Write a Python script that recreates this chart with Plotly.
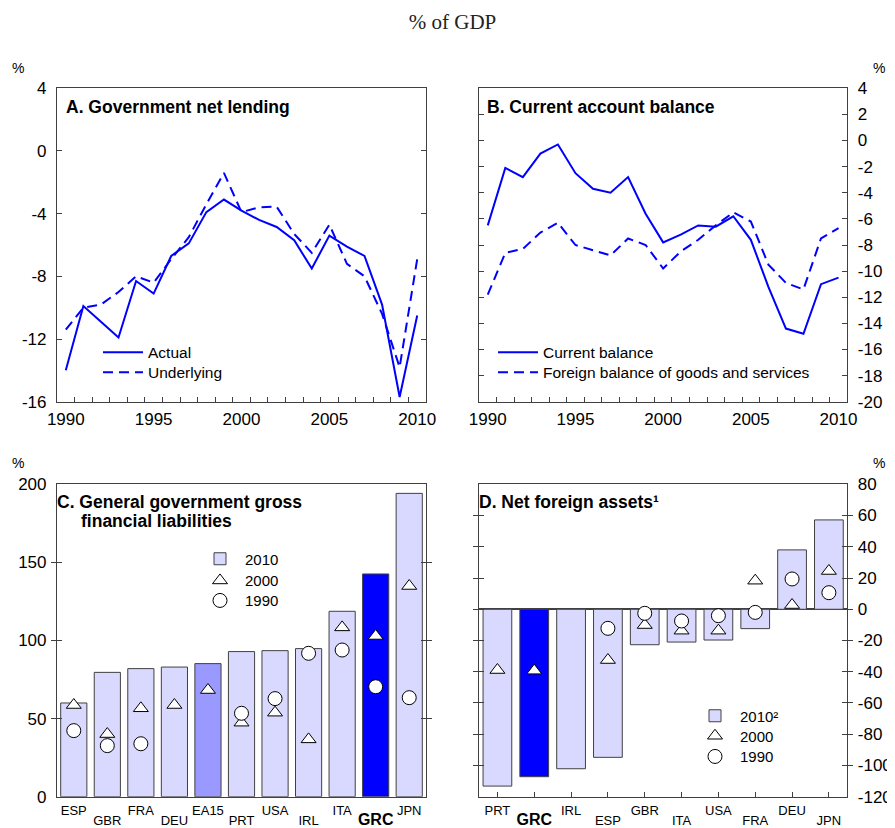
import plotly.graph_objects as go

# ---------------- data ----------------
years = list(range(1990, 2011))
gov_actual = [-14.0, -9.9, -10.9, -11.9, -8.3, -9.1, -6.7, -5.9, -3.9, -3.1, -3.8,
              -4.4, -4.85, -5.7, -7.5, -5.4, -6.1, -6.7, -9.8, -15.7, -10.5]
gov_underlying = [-11.4, -10.0, -9.8, -9.0, -8.0, -8.4, -6.9, -5.5, -3.4, -1.4, -3.9,
                  -3.6, -3.55, -5.3, -6.5, -4.7, -7.2, -8.0, -10.4, -13.8, -6.9]
ca_current = [-6.5, -2.1, -2.8, -1.0, -0.3, -2.5, -3.7, -4.0, -2.8, -5.6, -7.8,
              -7.2, -6.5, -6.6, -5.8, -7.6, -11.2, -14.4, -14.8, -11.0, -10.5]
ca_foreign = [-11.8, -8.6, -8.3, -7.05, -6.3, -8.0, -8.4, -8.8, -7.5, -8.0, -9.8,
              -8.5, -7.6, -6.5, -5.5, -6.2, -9.5, -10.9, -11.4, -7.5, -6.7]
year_ticks = [1990, 1995, 2000, 2005, 2010]

debt_countries = ["ESP", "GBR", "FRA", "DEU", "EA15", "PRT", "USA", "IRL", "ITA", "GRC", "JPN"]
debt_2010 = [60.0, 79.6, 82.0, 83.0, 85.2, 92.9, 93.5, 94.8, 118.7, 142.6, 194.2]
debt_2000 = [58.7, 40.1, 56.6, 58.7, 68.3, 47.4, 53.8, 36.7, 108.4, 102.9, 134.9]
debt_1990 = [42.3, 32.7, 33.9, None, None, 53.4, 62.8, 91.8, 93.9, 70.4, 63.4]

nfa_countries = ["PRT", "GRC", "IRL", "ESP", "GBR", "ITA", "USA", "FRA", "DEU", "JPN"]
nfa_2010 = [-113.2, -107.2, -102.1, -94.8, -22.7, -21.0, -19.7, -12.4, 38.0, 57.2]
nfa_2000 = [-38.9, -39.3, None, -32.5, -10.1, -13.7, -13.7, 18.3, 2.7, 24.5]
nfa_1990 = [None, None, None, -12.2, -2.6, -7.5, -4.1, -2.0, 19.4, 10.6]

ticks_a = [4, 0, -4, -8, -12, -16]
ticks_b = list(range(4, -21, -2))
ticks_c = [0, 50, 100, 150, 200]
ticks_d = list(range(80, -121, -20))

# ---------------- style ----------------
PAGE_OFFSET = 8          # default body margin of the html page
W, H = 895 - PAGE_OFFSET, 828 - PAGE_OFFSET
SANS = "Liberation Sans, Arial, sans-serif"
BLUE = "#0000ff"
LIGHT = "#d9d9ff"
MID = "#9999ff"
FRAME = "#404040"


def px_x(p):
    return (p - PAGE_OFFSET) / W


def px_y(p):
    return 1 - (p - PAGE_OFFSET) / H


def bar_color(c):
    return BLUE if c == "GRC" else (MID if c == "EA15" else LIGHT)


def cat_label(c):
    if c == "GRC":
        return "<span style='font-size:16px'><b>GRC</b></span>"
    return c


fig = go.Figure()
legend_layout = {}
legend_count = [0]


def new_legend(x, y, size=15.5):
    """one legend box per entry so rows can be spaced like the reference"""
    legend_count[0] += 1
    key = "legend" if legend_count[0] == 1 else f"legend{legend_count[0]}"
    legend_layout[key] = dict(x=px_x(x), y=px_y(y), xanchor="left", yanchor="middle",
                              bgcolor="rgba(0,0,0,0)", borderwidth=0, itemwidth=40,
                              font=dict(family=SANS, size=size, color="black"))
    return key


tri = dict(symbol="triangle-up", size=13, color="white", line=dict(color="black", width=1))
circ = dict(symbol="circle", size=14, color="white", line=dict(color="black", width=1))

# Panel A
fig.add_trace(go.Scatter(x=years, y=gov_actual, mode="lines", name="Actual",
                         line=dict(color=BLUE, width=2), xaxis="x", yaxis="y",
                         legend=new_legend(98, 352.7)))
fig.add_trace(go.Scatter(x=years, y=gov_underlying, mode="lines", name="Underlying",
                         line=dict(color=BLUE, width=2, dash="10px,6px"), xaxis="x", yaxis="y",
                         legend=new_legend(98, 372.7)))
# Panel B
fig.add_trace(go.Scatter(x=years, y=ca_current, mode="lines", name="Current balance",
                         line=dict(color=BLUE, width=2), xaxis="x2", yaxis="y2",
                         legend=new_legend(493, 352.7)))
fig.add_trace(go.Scatter(x=years, y=ca_foreign, mode="lines",
                         name="Foreign balance of goods and services",
                         line=dict(color=BLUE, width=2, dash="10px,6px"), xaxis="x2", yaxis="y2",
                         legend=new_legend(493, 372.7)))
# Panel C
fig.add_trace(go.Bar(x=debt_countries, y=debt_2010, name="2010",
                     marker=dict(color=[bar_color(c) for c in debt_countries],
                                 line=dict(color=FRAME, width=1)),
                     xaxis="x3", yaxis="y3", legend=new_legend(195, 559, 15)))
fig.add_trace(go.Scatter(x=debt_countries, y=debt_2000, mode="markers", name="2000",
                         marker=tri, xaxis="x3", yaxis="y3", legend=new_legend(195, 580.7, 15)))
fig.add_trace(go.Scatter(x=debt_countries, y=debt_1990, mode="markers", name="1990",
                         marker=circ, xaxis="x3", yaxis="y3", legend=new_legend(195, 600.7, 15)))
# invisible helper so the staggered label axis is drawn
fig.add_trace(go.Scatter(x=list(range(len(debt_countries))), y=debt_2010, mode="markers",
                         marker=dict(opacity=0), showlegend=False, hoverinfo="skip",
                         xaxis="x5", yaxis="y3"))
# Panel D
fig.add_trace(go.Bar(x=nfa_countries, y=nfa_2010, name="2010²",
                     marker=dict(color=[bar_color(c) for c in nfa_countries],
                                 line=dict(color=FRAME, width=1)),
                     xaxis="x4", yaxis="y4", legend=new_legend(690, 716, 15)))
fig.add_trace(go.Scatter(x=nfa_countries, y=nfa_2000, mode="markers", name="2000",
                         marker=tri, xaxis="x4", yaxis="y4", legend=new_legend(690, 736, 15)))
fig.add_trace(go.Scatter(x=nfa_countries, y=nfa_1990, mode="markers", name="1990",
                         marker=circ, xaxis="x4", yaxis="y4", legend=new_legend(690, 756.7, 15)))
fig.add_trace(go.Scatter(x=list(range(len(nfa_countries))), y=nfa_2010, mode="markers",
                         marker=dict(opacity=0), showlegend=False, hoverinfo="skip",
                         xaxis="x6", yaxis="y4"))

# ---------------- axes ----------------
dom_left = [px_x(57), px_x(426)]
dom_right = [px_x(479), px_x(847.3)]
dom_top = [px_y(401.7), px_y(88.3)]
dom_bot = [px_y(796.7), px_y(484.3)]

tickfont = dict(family=SANS, size=17, color="black")
catfont = dict(family=SANS, size=13, color="black")

common_x_year = dict(range=[1989.5, 2010.5], tickmode="array", tickvals=year_ticks,
                     ticktext=[str(v) for v in year_ticks],
                     ticks="inside", ticklen=0, showline=True, linecolor=FRAME, linewidth=1.2,
                     mirror=True, automargin=False,
                     showgrid=False, zeroline=False, tickfont=tickfont, ticklabelstandoff=2,
                     minor=dict(ticks="inside", tick0=1989.5, dtick=1, ticklen=5,
                                tickcolor=FRAME, showgrid=False))
common_y = dict(showline=True, linecolor=FRAME, linewidth=1.2, mirror="allticks",
                ticks="inside", ticklen=5, tickcolor=FRAME, showgrid=False, automargin=False,
                tickfont=tickfont, ticklabelstandoff=6, tickmode="array")

even_c = debt_countries[0::2]
odd_c = debt_countries[1::2]
odd_d = nfa_countries[1::2]

fig.update_layout(
    xaxis=dict(domain=dom_left, anchor="y", **common_x_year),
    yaxis=dict(domain=dom_top, anchor="x", range=[-16, 4], tickvals=ticks_a,
               ticktext=[str(v) for v in ticks_a], zeroline=False, **common_y),
    xaxis2=dict(domain=dom_right, anchor="y2", **common_x_year),
    yaxis2=dict(domain=dom_top, anchor="x2", side="right", range=[-20, 4], tickvals=ticks_b,
                ticktext=[str(v) for v in ticks_b], zeroline=False, **common_y),
    xaxis3=dict(domain=dom_left, anchor="y3", type="category", categoryorder="array",
                categoryarray=debt_countries, range=[-0.5, len(debt_countries) - 0.5],
                tickmode="array", tickvals=even_c, ticktext=[cat_label(c) for c in even_c],
                ticks="", showline=True, linecolor=FRAME, linewidth=1.2, mirror=True,
                automargin=False,
                showgrid=False, zeroline=False, tickfont=catfont, ticklabelstandoff=2),
    xaxis5=dict(overlaying="x3", anchor="y3", side="bottom", type="linear",
                range=[-0.5, len(debt_countries) - 0.5], tickmode="array",
                tickvals=[debt_countries.index(c) for c in odd_c],
                ticktext=[cat_label(c) for c in odd_c], ticks="", showline=False,
                automargin=False,
                showgrid=False, zeroline=False, tickfont=catfont, ticklabelstandoff=14),
    yaxis3=dict(domain=dom_bot, anchor="x3", range=[0, 200], tickvals=ticks_c,
                ticktext=[str(v) for v in ticks_c], zeroline=False, **common_y),
    xaxis4=dict(domain=dom_right, anchor="y4", type="category", categoryorder="array",
                categoryarray=nfa_countries, range=[-0.5, len(nfa_countries) - 0.5],
                tickmode="array", tickvals=nfa_countries,
                ticktext=[cat_label(c) if i % 2 == 0 else "" for i, c in enumerate(nfa_countries)],
                ticks="inside", ticklen=5, tickcolor=FRAME,
                showline=True, linecolor=FRAME, linewidth=1.2, mirror=True, automargin=False,
                showgrid=False, zeroline=False, tickfont=catfont, ticklabelstandoff=2),
    xaxis6=dict(overlaying="x4", anchor="y4", side="bottom", type="linear",
                range=[-0.5, len(nfa_countries) - 0.5], tickmode="array",
                tickvals=[nfa_countries.index(c) for c in odd_d],
                ticktext=[cat_label(c) for c in odd_d], ticks="", showline=False,
                automargin=False,
                showgrid=False, zeroline=False, tickfont=catfont, ticklabelstandoff=14),
    yaxis4=dict(domain=dom_bot, anchor="x4", side="right", range=[-120, 80], tickvals=ticks_d,
                ticktext=[str(v) for v in ticks_d],
                zeroline=True, zerolinecolor=FRAME, zerolinewidth=1.5, **common_y),
)

fig.update_layout(showlegend=True, **legend_layout)

# ---------------- texts ----------------
ann = []


def add_text(text, x, y, size, bold=False, xanchor="left"):
    ann.append(dict(text=f"<b>{text}</b>" if bold else text, x=px_x(x), y=px_y(y),
                    xref="paper", yref="paper", xanchor=xanchor, yanchor="middle",
                    showarrow=False, font=dict(family=SANS, size=size, color="black")))


add_text("A. Government net lending", 64, 107, 17.5, bold=True)
add_text("B. Current account balance", 485, 107, 17.5, bold=True)
add_text("C. General government gross", 55, 502, 17.5, bold=True)
add_text("financial liabilities", 79, 521, 17.5, bold=True)
add_text("D. Net foreign assets¹", 477, 502, 17.5, bold=True)
add_text("%", 18, 68, 14, xanchor="center")
add_text("%", 887, 68, 14, xanchor="right")
add_text("%", 18, 463, 14, xanchor="center")
add_text("%", 887, 463, 14, xanchor="right")

fig.update_layout(
    annotations=ann,
    title=dict(text="% of GDP", x=px_x(452.5), xanchor="center", y=px_y(22), yanchor="middle",
               font=dict(family="Liberation Serif, DejaVu Serif, serif", size=21, color="#222")),
    width=W, height=H, margin=dict(l=0, r=0, t=0, b=0, autoexpand=False),
    paper_bgcolor="white", plot_bgcolor="white",
    bargap=0.22, font=dict(family=SANS, color="black"),
)

fig.write_html("out.html")
